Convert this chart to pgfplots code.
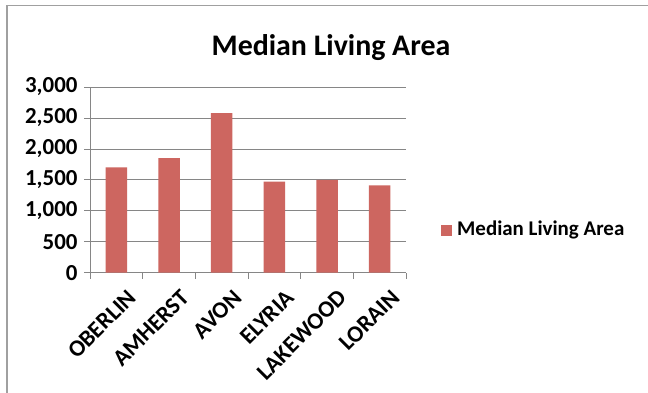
\documentclass[border=0pt]{standalone}
\usepackage{pgfplots}
\pgfplotsset{compat=1.18}
\usepackage{fontspec}
\setmainfont{Carlito}
\definecolor{barred}{RGB}{205,102,96}
\definecolor{gridgray}{RGB}{134,134,134}
\definecolor{framegray}{RGB}{160,160,160}
\begin{document}
\begin{tikzpicture}[x=1bp,y=1bp]
\useasboundingbox (0,0) rectangle (648,392);
\fill[white] (0,0) rectangle (648,392);
\draw[framegray, line width=1.5bp] (7,-5) -- (7,386.5) -- (660,386.5);
\node[font=\bfseries\fontsize{30}{34}\selectfont, anchor=center] at (331,344) {Median Living Area};
\begin{axis}[
  at={(90bp,119.3bp)}, anchor=origin,
  scale only axis,
  width=316bp, height=185.7bp,
  xmin=0.5, xmax=6.5,
  ymin=0, ymax=3000,
  ytick={0,500,...,3000},
  xtick={1,...,6},
  xticklabels={OBERLIN,AMHERST,AVON,ELYRIA,LAKEWOOD,LORAIN},
  minor xtick={0.5,1.5,...,6.5},
  major x tick style={draw=none},
  tick align=outside,
  major tick length=6bp,
  minor tick length=6bp,
  tick style={gridgray, line width=0.8bp},
  ymajorgrids,
  grid style={gridgray, line width=0.8bp},
  axis x line*=bottom,
  axis y line*=left,
  axis line style={gridgray, line width=0.8bp},
  y axis line style={-},
  x axis line style={-},
  ytick style={gridgray},
  scaled y ticks=false,
  /pgf/number format/assume math mode=true,
  yticklabel={\pgfmathprintnumber[fixed,1000 sep={,}]{\tick}},
  yticklabel style={font=\bfseries\fontsize{23}{26}\selectfont, xshift=-3bp},
  xticklabel style={font=\bfseries\fontsize{23.5}{26}\selectfont, rotate=45, anchor=east, xshift=4bp, yshift=-22bp},
  ybar, bar width=21.5bp,
  clip=false,
]
\addplot[fill=barred, draw=none, bar shift=0pt] coordinates {(1,1700) (2,1850) (3,2580) (4,1470) (5,1500) (6,1410)};
\end{axis}
\fill[barred] (441,156.5) rectangle (452,167.5);
\node[font=\bfseries\fontsize{21}{24}\selectfont, anchor=west, inner sep=0pt] at (457,162) {Median Living Area};
\end{tikzpicture}
\end{document}
